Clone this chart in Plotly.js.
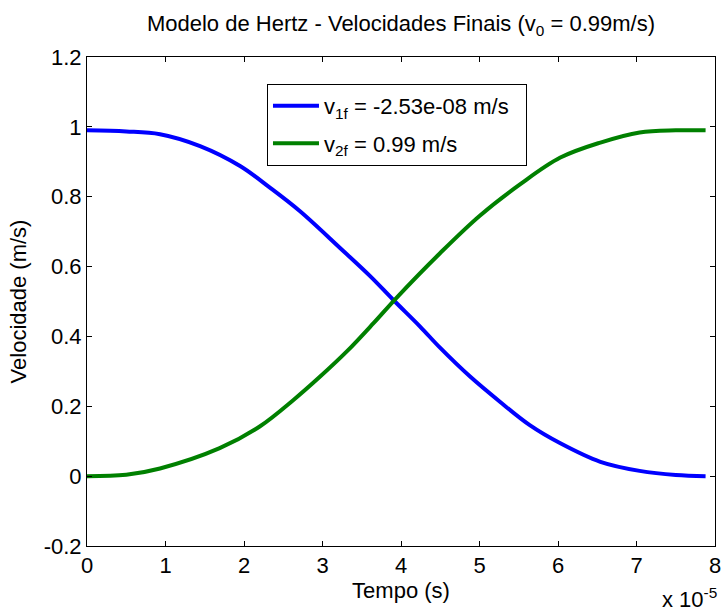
<!DOCTYPE html>
<html>
<head>
<meta charset="utf-8">
<script src="https://cdn.plot.ly/plotly-3.0.1.min.js"></script>
<style>
  html, body { margin: 0; padding: 0; background: #fff; }
  #chart { width: 722px; height: 612px; }
</style>
</head>
<body>
<div id="chart"></div>
<script>
// Esfera 1: tempo de contato (s) e velocidade (m/s)
const tempo1 = [0, 0.5e-5, 0.93e-5, 1.44e-5, 1.95e-5, 2.33e-5, 2.71e-5, 3.22e-5, 3.61e-5,
                3.90e-5, 4.24e-5, 4.50e-5, 4.88e-5, 5.26e-5, 5.64e-5, 6.03e-5, 6.54e-5,
                7.04e-5, 7.50e-5, 7.88e-5];
const v1 = [0.990, 0.987, 0.979, 0.945, 0.888, 0.826, 0.759, 0.654, 0.572,
            0.505, 0.429, 0.367, 0.285, 0.213, 0.146, 0.094, 0.041,
            0.015, 0.003, 0.000];

// Esfera 2: tempo de contato (s) e velocidade (m/s)
const tempo2 = [0, 0.5e-5, 0.93e-5, 1.69e-5, 2.20e-5, 2.63e-5, 2.97e-5, 3.31e-5, 3.65e-5,
                3.94e-5, 4.50e-5, 5.00e-5, 5.52e-5, 6.03e-5, 6.54e-5, 7.04e-5, 7.50e-5,
                7.88e-5];
const v2 = [0.000, 0.004, 0.022, 0.080, 0.142, 0.218, 0.285, 0.357, 0.438,
            0.510, 0.639, 0.745, 0.836, 0.912, 0.955, 0.984, 0.990,
            0.990];

const xTickVals = [0, 1e-5, 2e-5, 3e-5, 4e-5, 5e-5, 6e-5, 7e-5, 8e-5];
const xTickText = ['0', '1', '2', '3', '4', '5', '6', '7', '8'];
const yTickVals = [-0.2, 0, 0.2, 0.4, 0.6, 0.8, 1, 1.2];
const yTickText = ['-0.2', '0', '0.2', '0.4', '0.6', '0.8', '1', '1.2'];

const nomeV1 = 'v<sub>1f</sub> = -2.53e-08 m/s&nbsp;&nbsp;';
const nomeV2 = 'v<sub>2f</sub> = 0.99 m/s';

const fonte = 'Liberation Sans, Arial, sans-serif';
const tam = 22;

const traces = [
  {
    x: tempo1, y: v1, name: nomeV1, legendgroup: 'a', type: 'scatter', mode: 'lines',
    line: { color: '#0000ff', width: 4, shape: 'spline', smoothing: 1 }
  },
  {
    x: tempo2, y: v2, name: nomeV2, legendgroup: 'b', type: 'scatter', mode: 'lines',
    line: { color: '#008000', width: 4, shape: 'spline', smoothing: 1 }
  }
];

const eixo = {
  showgrid: false, zeroline: false,
  showline: true, linecolor: '#000', linewidth: 1, mirror: 'ticks',
  ticks: 'inside', ticklen: 5, tickcolor: '#000', tickwidth: 1,
  tickfont: { family: fonte, size: tam, color: '#000' }
};

const layout = {
  width: 722, height: 612,
  margin: { l: 87, r: 7, t: 57, b: 66 },
  paper_bgcolor: '#fff', plot_bgcolor: '#fff',
  font: { family: fonte, size: tam, color: '#000' },
  title: {
    text: 'Modelo de Hertz - Velocidades Finais (v<sub>0</sub> = 0.99m/s)',
    font: { family: fonte, size: tam, color: '#000' },
    x: 0.5, xref: 'paper', xanchor: 'center',
    y: 0.962, yref: 'container', yanchor: 'middle'
  },
  xaxis: Object.assign({}, eixo, {
    range: [0, 8e-5], tickmode: 'array', tickvals: xTickVals, ticktext: xTickText,
    title: { text: 'Tempo (s)', font: { family: fonte, size: tam }, standoff: 2 }
  }),
  yaxis: Object.assign({}, eixo, {
    range: [-0.2, 1.2], tickmode: 'array', tickvals: yTickVals, ticktext: yTickText,
    title: { text: 'Velocidade (m/s)', font: { family: fonte, size: tam }, standoff: 10 }
  }),
  showlegend: true,
  legend: {
    x: 0.2866, y: 0.945, xanchor: 'left', yanchor: 'top',
    bgcolor: '#fff', bordercolor: '#000', borderwidth: 1,
    tracegroupgap: 6, itemwidth: 46,
    font: { family: fonte, size: tam, color: '#000' }
  },
  annotations: [
    {
      text: 'x 10<sup>-5</sup>', xref: 'paper', yref: 'paper',
      x: 1.006, y: -0.074, xanchor: 'right', yanchor: 'top', showarrow: false,
      font: { family: fonte, size: tam, color: '#000' }
    }
  ]
};

Plotly.newPlot('chart', traces, layout, { displayModeBar: false, staticPlot: true });
</script>
</body>
</html>
